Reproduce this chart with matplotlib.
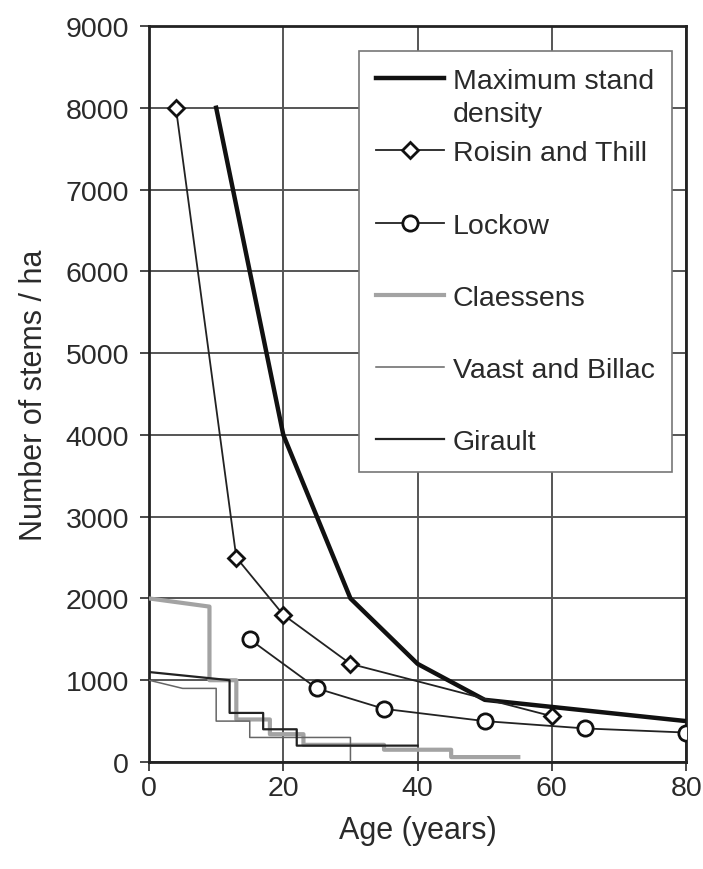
import matplotlib
matplotlib.use('Agg')
import matplotlib.pyplot as plt

# Data
max_age = [10, 20, 30, 40, 50, 80]
max_density = [8000, 4000, 2000, 1200, 760, 500]

roisin_age = [4, 13, 20, 30, 60]
roisin_stems = [8000, 2500, 1800, 1200, 560]

lockow_age = [15, 25, 35, 50, 65, 80]
lockow_stems = [1500, 900, 650, 500, 410, 360]

claessens_age = [0, 9, 9, 13, 13, 18, 18, 23, 23, 35, 35, 45, 45, 55]
claessens_stems = [2000, 1900, 1000, 1000, 520, 520, 340, 340, 210, 210, 150, 150, 60, 60]

vaast_age = [0, 5, 10, 10, 15, 15, 30, 30]
vaast_stems = [1000, 900, 900, 500, 500, 300, 300, 0]

girault_age = [0, 12, 12, 17, 17, 22, 22, 40]
girault_stems = [1100, 1000, 600, 600, 400, 400, 200, 200]

plt.rcParams['font.family'] = ['Liberation Sans', 'DejaVu Sans']
txt_color = '#2a2a2a'

fig = plt.figure(figsize=(7.03, 8.70), dpi=100)
ax = fig.add_axes([0.212, 0.123, 0.764, 0.846])

ax.plot(max_age, max_density, color='#111111', lw=3.2,
        label='Maximum stand', zorder=4)
ax.plot(roisin_age, roisin_stems, color='#222222', lw=1.3, marker='D',
        markersize=8, markerfacecolor='white', markeredgecolor='#111111',
        markeredgewidth=2, label='Roisin and Thill', zorder=4)
ax.plot(lockow_age, lockow_stems, color='#222222', lw=1.3, marker='o',
        markersize=11, markerfacecolor='white', markeredgecolor='#111111',
        markeredgewidth=2, label='Lockow', zorder=4)
ax.plot(claessens_age, claessens_stems, color='#a3a3a3', lw=3,
        label='Claessens', zorder=3)
ax.plot(vaast_age, vaast_stems, color='#666666', lw=1.1,
        label='Vaast and Billac', zorder=3)
ax.plot(girault_age, girault_stems, color='#222222', lw=1.6,
        label='Girault', zorder=3)

ax.set_xlim(0, 80)
ax.set_ylim(0, 9000)
ax.set_xticks(range(0, 81, 20))
ax.set_yticks(range(0, 9001, 1000))
ax.grid(True, color='#555555', lw=1.4)
ax.set_axisbelow(True)
for s in ax.spines.values():
    s.set_linewidth(2)
    s.set_color('#222222')
ax.tick_params(direction='out', length=6.5, width=1.2, labelsize=20.5,
               colors=txt_color)
ax.tick_params(axis='x', pad=3)
ax.tick_params(axis='y', pad=8)

ax.set_xlabel('Age (years)', fontsize=22, color=txt_color, labelpad=10)
ax.set_ylabel('Number of stems / ha', fontsize=22, color=txt_color, labelpad=12)

leg = ax.legend(loc='upper right', bbox_to_anchor=(1.0, 0.985),
                fontsize=20.5, handlelength=2.4, handletextpad=0.3,
                labelspacing=1.62, borderpad=0.6, fancybox=False,
                framealpha=1, edgecolor='#777777')
leg.set_zorder(10)
leg.get_frame().set_linewidth(1.2)
for t in leg.get_texts():
    t.set_color(txt_color)

# second line of the first legend label, hanging into the gap below it
ax.annotate('density', xy=(0, 0), xycoords=leg.get_texts()[0],
            xytext=(0, -33), textcoords='offset pixels',
            ha='left', va='bottom', fontsize=20.5, color=txt_color,
            annotation_clip=False, zorder=11)

plt.savefig('out.png', dpi=100)
plt.close()
